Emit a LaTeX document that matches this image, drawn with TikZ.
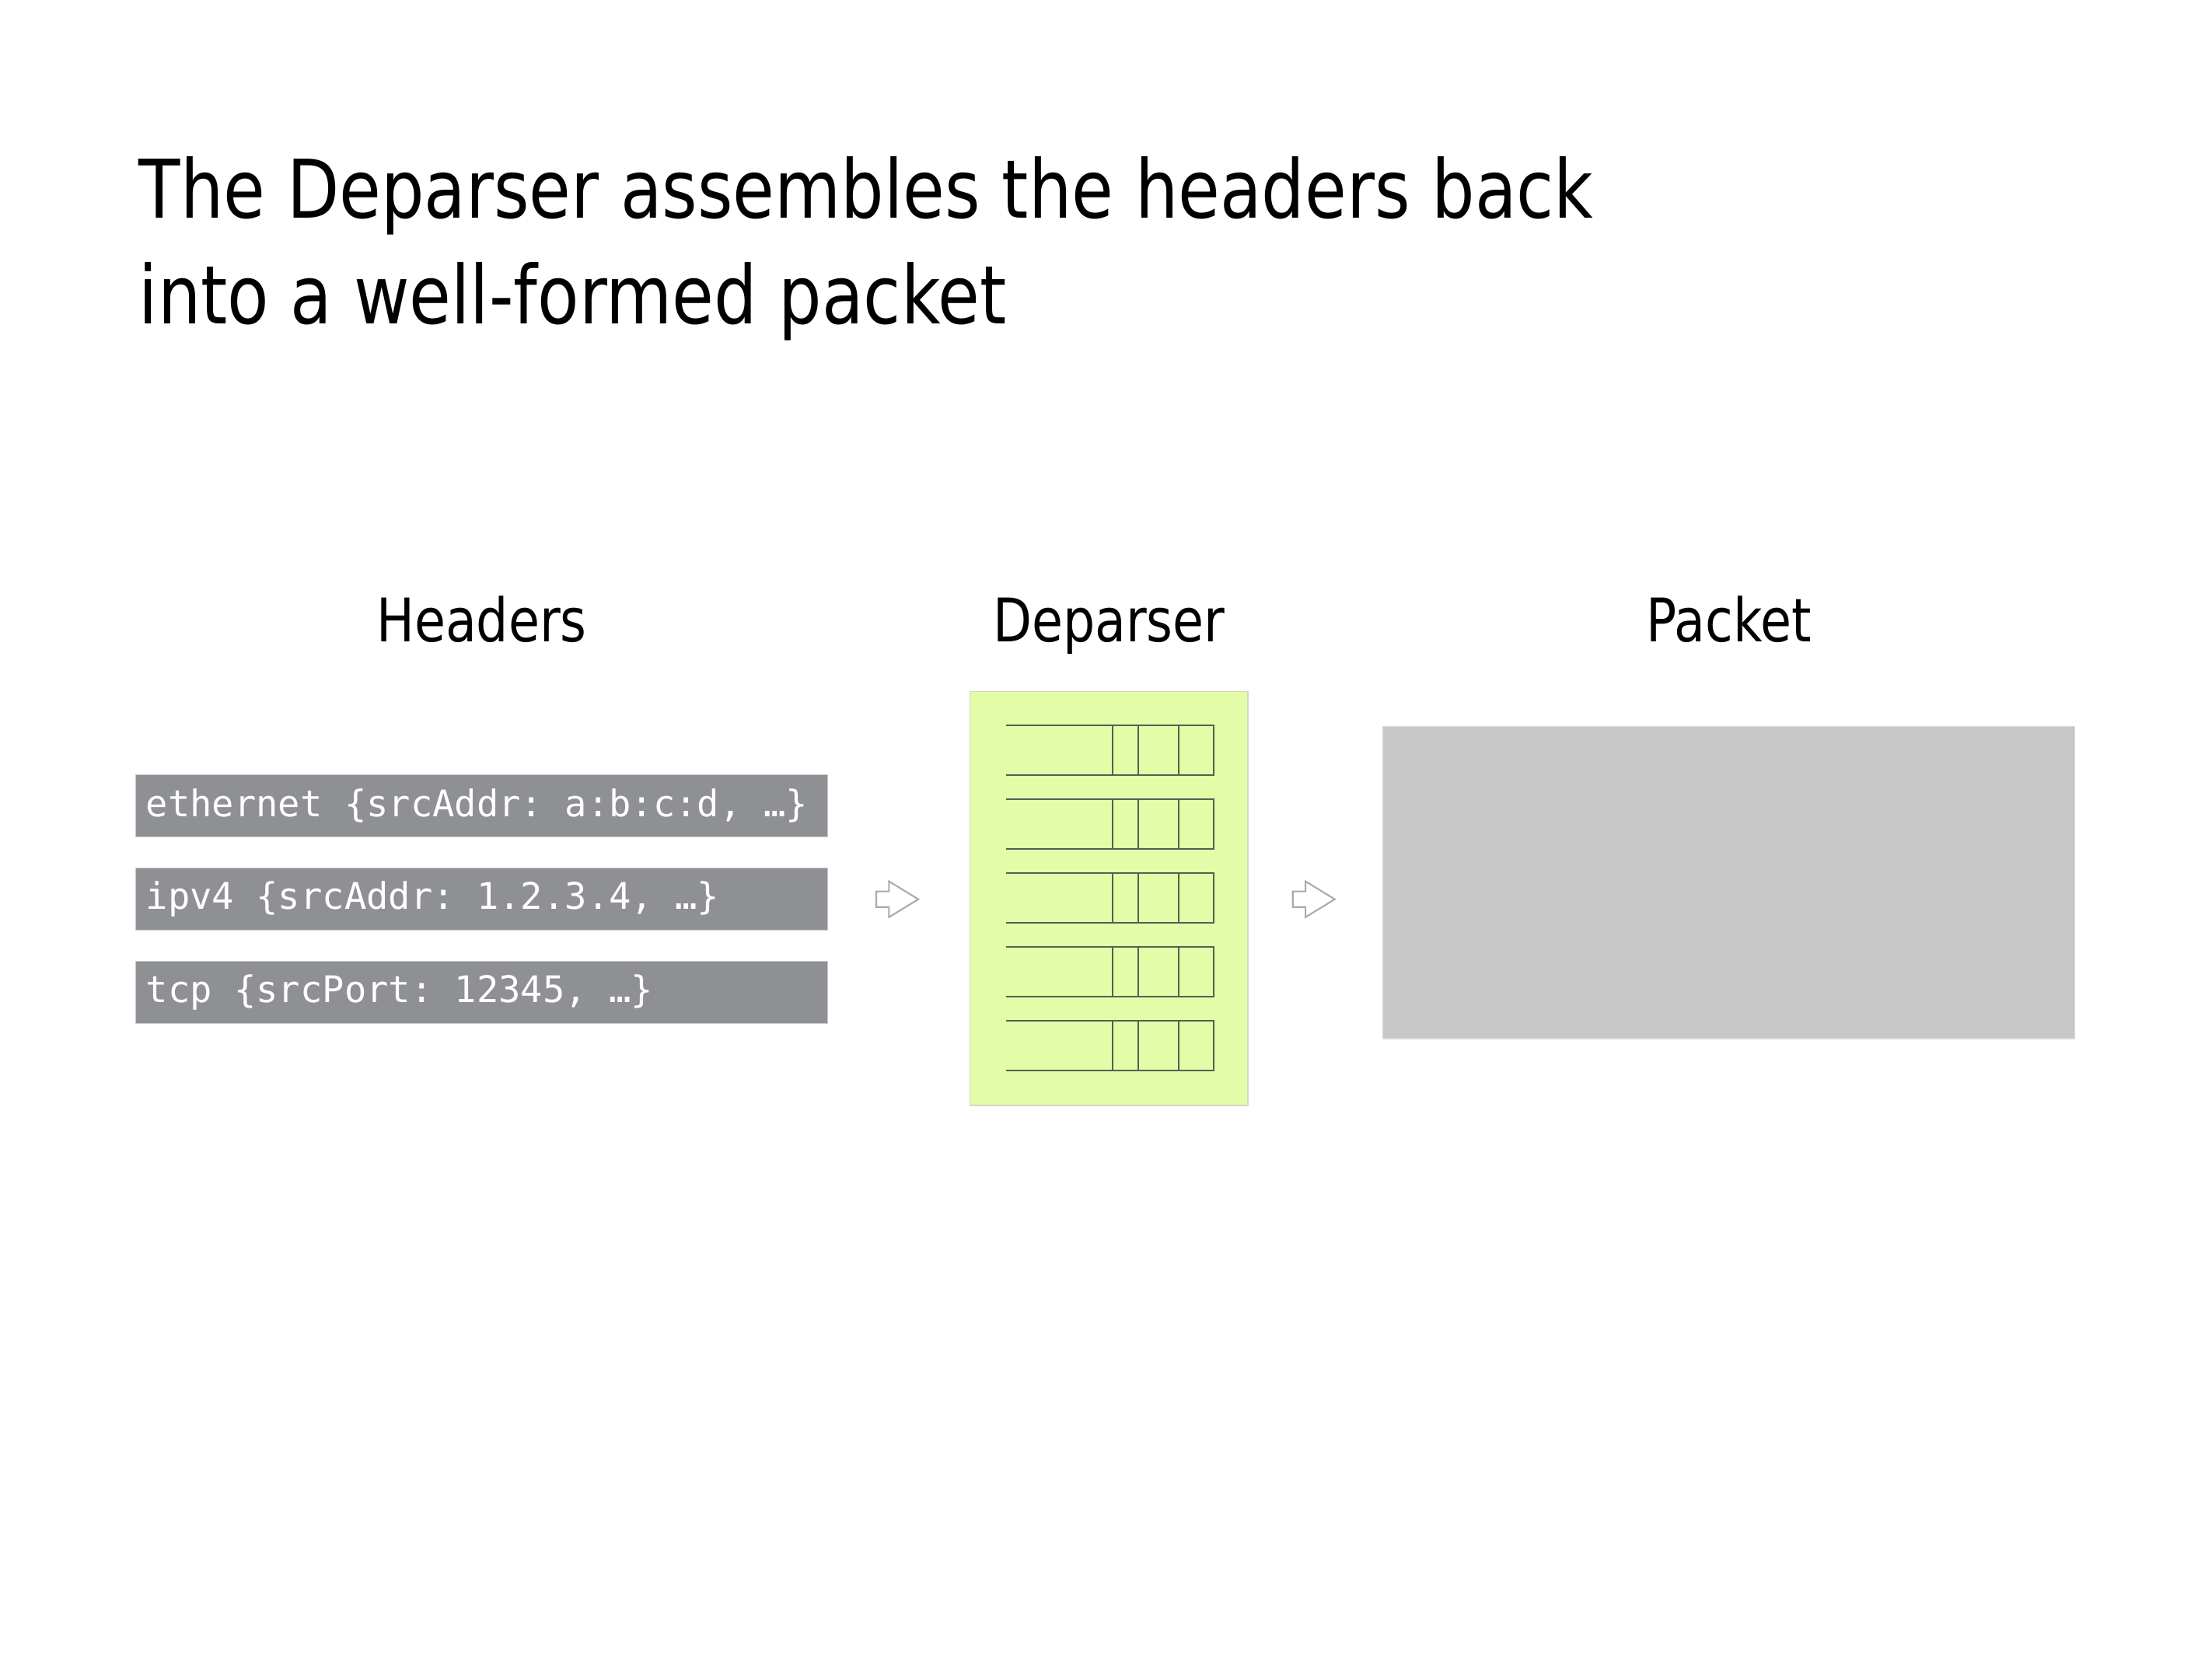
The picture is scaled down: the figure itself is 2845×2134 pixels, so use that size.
\documentclass[tikz,border=0pt]{standalone}
\usepackage{fontspec}
\setmainfont{DejaVu Sans}[FakeStretch=0.84]
\setmonofont{DejaVu Sans Mono}
\usetikzlibrary{shapes.arrows,positioning,calc}
\definecolor{hdrgray}{RGB}{142,144,148}
\definecolor{hdredge}{RGB}{201,202,203}
\definecolor{deplime}{RGB}{226,252,167}
\definecolor{depedge}{RGB}{212,216,200}
\definecolor{slotgray}{RGB}{85,95,85}
\definecolor{pktgray}{RGB}{198,199,198}
\definecolor{pktedge}{RGB}{217,217,217}
\definecolor{arrowgray}{RGB}{170,170,170}
\newcommand{\monosp}{\hphantom{0}}

\begin{document}
\begin{tikzpicture}[x=0.01cm, y=-0.01cm,
    titleline/.style={font=\fontsize{29.6}{38}\selectfont, anchor=base west, inner sep=0pt},
    collabel/.style={font=\fontsize{22}{26}\selectfont, anchor=base, inner sep=0pt},
    hdrbox/.style={draw=hdredge, fill=hdrgray, text=white, font=\ttfamily\fontsize{13.4}{16}\selectfont, minimum height=0.8cm, text width=8.63cm, align=left, inner xsep=0.13cm, anchor=north west},
    depbox/.style={draw=depedge, fill=deplime, minimum width=3.57cm, minimum height=5.32cm, inner sep=0pt, anchor=north west},
    pktbox/.style={draw=pktedge, fill=pktgray, minimum width=8.89cm, minimum height=4.01cm, inner sep=0pt, anchor=north west},
    flowarrow/.style={single arrow, draw=arrowgray, fill=white, line width=0.6pt, minimum height=0.54cm, inner xsep=0pt, inner ysep=0.09cm, single arrow head extend=0.13cm, single arrow tip angle=63, anchor=tail},
    slot/.style={draw=slotgray, line width=0.6pt}
]
\useasboundingbox (0,0) rectangle (2845,2134);

\node[titleline] (title1) at (178,281) {The Deparser assembles the headers back};
\node[titleline] (title2) at (178,417) {into a well-formed packet};

\node[hdrbox] (eth) at (174,996) {ethernet\monosp\{srcAddr:\monosp a:b:c:d,\monosp…\}};
\node[hdrbox] (ipv4) at (174,1116) {ipv4\monosp\{srcAddr:\monosp 1.2.3.4,\monosp…\}};
\node[hdrbox] (tcp) at (174,1236) {tcp\monosp\{srcPort:\monosp 12345,\monosp…\}};

\node[depbox] (dep) at (1247,889) {};
\node[pktbox] (pkt) at (1778,934) {};

\node[collabel] (hdrlabel) at (eth.north |- 0,826) {Headers};
\node[collabel] (deplabel) at (dep.north |- 0,826) {Deparser};
\node[collabel] (pktlabel) at (pkt.north |- 0,826) {Packet};

% header slots inside the deparser
\foreach \r in {0,...,4} {
  \pgfmathsetmacro{\slottop}{933+95*\r}
  \pgfmathsetmacro{\slotbot}{997+95*\r}
  \draw[slot] (1294,\slottop) -- (1561,\slottop) -- (1561,\slotbot) -- (1294,\slotbot);
  \foreach \xx in {1431,1464,1516}
    \draw[slot] (\xx,\slottop) -- (\xx,\slotbot);
}

\node[flowarrow] (arr1) at ([xshift=0.61cm]ipv4.east) {};
\node[flowarrow] (arr2) at ([xshift=0.56cm]dep.east |- ipv4.east) {};
\end{tikzpicture}
\end{document}
